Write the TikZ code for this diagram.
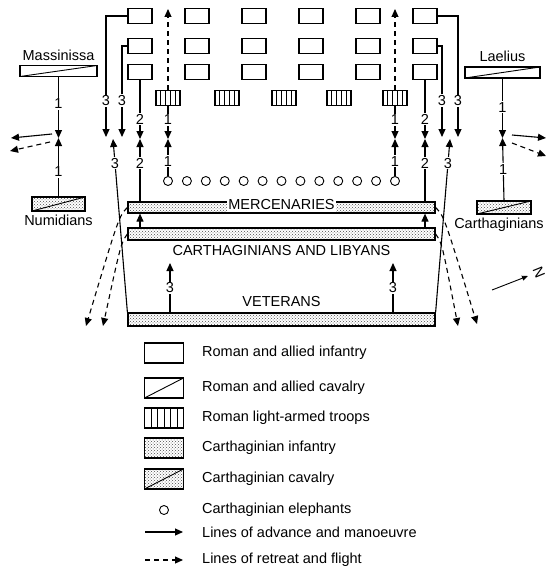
\documentclass[tikz,border=0pt]{standalone}
\usepackage{fontspec}
\setmainfont{Liberation Sans}
\usetikzlibrary{positioning, arrows.meta, calc, patterns}

\begin{document}
\begin{tikzpicture}[x=1pt, y=-1pt,
    every node/.style={font=\fontsize{14.5}{16}\selectfont},
    inf/.style={rectangle, draw, line width=1.2pt, minimum width=24pt, minimum height=15pt, inner sep=0pt},
    lt/.style={inf, path picture={
        \foreach \k in {1,...,#1} {
          \pgfmathsetmacro\fr{\k/(#1+1)}
          \draw[line width=0.8pt] ($(path picture bounding box.south west)!\fr!(path picture bounding box.south east)$)
            -- ($(path picture bounding box.north west)!\fr!(path picture bounding box.north east)$);
        }}},
    lt/.default=4,
    cav/.style={inf, path picture={\draw[line width=0.9pt] (path picture bounding box.south west) -- (path picture bounding box.north east);}},
    cinf/.style={inf, pattern=crosshatch dots, pattern color=black!70},
    ccav/.style={cinf, path picture={\draw[line width=0.9pt] (path picture bounding box.south west) -- (path picture bounding box.north east);}},
    eleph/.style={circle, draw, line width=0.9pt, minimum size=9pt, inner sep=0pt},
    num/.style={fill=white, inner sep=1pt},
    arr/.style={-{Triangle[length=8pt, width=7pt]}, line width=1.1pt},
    flee/.style={arr, dash pattern=on 5pt off 4pt},
    keytext/.style={anchor=west, inner sep=0pt},
  ]
    \useasboundingbox (0,0) rectangle (547,578);

    % Roman lines
    \foreach \c [count=\i] in {140,197,254,311,368,425}
      \foreach \r [count=\j] in {16,46,72}
        \node[inf] (ri\j-\i) at (\c,\r) {};
    \foreach \c [count=\i] in {168,227,284,339,395}
      \node[lt] (lt\i) at (\c,98) {};

    % elephants
    \foreach \k in {0,...,12}
      \node[eleph] (el\k) at ({168+\k*227/12},181) {};

    % Carthaginian lines
    \node[cinf, minimum width=307pt, minimum height=11pt] (merc) at (281.5,207.5) {};
    \node[cinf, minimum width=307pt, minimum height=12pt] (carlib) at (281.5,234) {};
    \node[cinf, minimum width=307pt, minimum height=13pt] (vet) at (281.5,319.5) {};
    \node[fill=white, inner sep=1.5pt] (merclbl) at (281.5,205) {MERCENARIES};
    \node (carliblbl) at (281.5,251) {CARTHAGINIANS AND LIBYANS};
    \node (vetlbl) at (281.5,302) {VETERANS};

    % cavalry
    \node[cav, minimum width=77pt, minimum height=11pt] (mass) at (58.5,71) {};
    \node[above=1pt of mass] (masslbl) {Massinissa};
    \node[ccav, minimum width=53pt, minimum height=14pt] (numid) at (58.5,204) {};
    \node[below=0pt of numid] (numidlbl) {Numidians};
    \node[cav, minimum width=75pt, minimum height=11pt] (lael) at (502.5,72.5) {};
    \node[above=1pt of lael] (laellbl) {Laelius};
    \node[ccav, minimum width=54pt, minimum height=13pt] (ccav) at (504,207.5) {};
    \node[below=0pt of ccav, xshift=-5pt] (ccavlbl) {Carthaginians};

    % meeting points and free ends
    \coordinate (mcl) at (58.5,138);
    \coordinate (mcr) at (502.5,138);
    \coordinate (m1l) at (168,139);
    \coordinate (m1r) at (395,139);
    \coordinate (m2l) at (140,139);
    \coordinate (m2r) at (425,139);
    \coordinate (d3a) at (106,137);
    \coordinate (d3b) at (122,137);
    \coordinate (d3c) at (442,137);
    \coordinate (d3d) at (458,137);
    \coordinate (m3l) at (113,139);
    \coordinate (m3r) at (450,139);
    \coordinate (top1) at (168,9);
    \coordinate (top5) at (395,9);
    \coordinate (v3l) at (170,263);
    \coordinate (v3r) at (393,263);

    % cavalry fight
    \draw[arr] (mass.south) -- node[num, pos=0.44] {1} (mcl);
    \draw[arr] (numid.north) -- node[num, pos=0.42] {1} (mcl);
    \draw[arr] (lael.south) -- node[num, pos=0.48] {1} (mcr);
    \draw[arr] (ccav.north) -- node[num, pos=0.5] {1} (mcr);
    \coordinate (cl1s) at (52,134);  \coordinate (cl1e) at (11,138);
    \coordinate (cl2s) at (50,142);  \coordinate (cl2e) at (10,151);
    \coordinate (cr1s) at (512,135); \coordinate (cr1e) at (546,138);
    \coordinate (cr2s) at (512,143); \coordinate (cr2e) at (546,156);
    \draw[arr] (cl1s) -- (cl1e);
    \draw[flee] (cl2s) -- (cl2e);
    \draw[arr] (cr1s) -- (cr1e);
    \draw[flee] (cr2s) -- (cr2e);

    % light troops and elephants
    \draw[flee] (lt1.north) -- (top1);
    \draw[flee] (lt5.north) -- (top5);
    \draw[arr] (lt1.south) -- node[num, pos=0.41] {1} (m1l);
    \draw[arr] (lt5.south) -- node[num, pos=0.41] {1} (m1r);
    \draw[arr] (el0.north) -- node[num, pos=0.4] {1} (m1l);
    \draw[arr] (el12.north) -- node[num, pos=0.4] {1} (m1r);

    % hastati against mercenaries
    \draw[arr] (ri3-1.south) -- node[num, pos=0.66] {2} (m2l);
    \draw[arr] (ri3-6.south) -- node[num, pos=0.66] {2} (m2r);
    \draw[arr] (ri3-1.south |- merc.north) -- node[num, pos=0.61] {2} (m2l);
    \draw[arr] (ri3-6.south |- merc.north) -- node[num, pos=0.61] {2} (m2r);
    \draw[arr] (ri3-1.south |- carlib.north) -- (ri3-1.south |- merc.south);
    \draw[arr] (ri3-6.south |- carlib.north) -- (ri3-6.south |- merc.south);

    % principes and triarii to the wings
    \draw[arr] (ri1-1.west) -| node[num, pos=0.85] {3} (d3a);
    \draw[arr] (ri2-1.west) -| node[num, pos=0.8] {3} (d3b);
    \draw[arr] (ri1-6.east) -| node[num, pos=0.85] {3} (d3d);
    \draw[arr] (ri2-6.east) -| node[num, pos=0.8] {3} (d3c);
    \draw[arr] (vet.north west) -- node[num, pos=0.86] {3} (m3l);
    \draw[arr] (vet.north east) -- node[num, pos=0.86] {3} (m3r);
    \draw[arr] (v3l |- vet.north) -- node[num] {3} (v3l);
    \draw[arr] (v3r |- vet.north) -- node[num] {3} (v3r);

    % flight
    \coordinate (fl1) at (86,326);
    \coordinate (fl2) at (103,326);
    \coordinate (fr1) at (477,324);
    \coordinate (fr2) at (458,326);
    \draw[flee] (merc.west) .. controls (119,216) .. (fl1);
    \draw[flee] (carlib.west) .. controls (121,243) .. (fl2);
    \draw[flee] (merc.east) .. controls (444,216) .. (fr1);
    \draw[flee] (carlib.east) .. controls (442,243) .. (fr2);

    % north
    \coordinate (ns) at (492,290);
    \coordinate (ne) at (528,276);
    \draw[-{Triangle[length=6pt, width=5pt]}, line width=0.9pt] (ns) -- (ne);
    \node[rotate=-68, inner sep=0pt] (nlbl) at (539,272) {N};

    % key
    \node[inf, minimum width=39pt, minimum height=20pt] (key1) at (164,353) {};
    \node[cav, minimum width=39pt, minimum height=20pt] (key2) at (164,388) {};
    \node[lt=5, minimum width=39pt, minimum height=20pt] (key3) at (164,418) {};
    \node[cinf, minimum width=39pt, minimum height=20pt] (key4) at (164,448) {};
    \node[ccav, minimum width=39pt, minimum height=20pt] (key5) at (164,479) {};
    \node[eleph] (key6) at (164,510) {};
    \coordinate (key7a) at (145,532); \coordinate (key7b) at (183,532);
    \coordinate (key8a) at (145,560); \coordinate (key8b) at (183,560);
    \draw[arr] (key7a) -- (key7b);
    \draw[flee] (key8a) -- (key8b);
    \node[keytext] (kt1) at (202,353) {Roman and allied infantry};
    \node[keytext] (kt2) at (202,388) {Roman and allied cavalry};
    \node[keytext] (kt3) at (202,418) {Roman light-armed troops};
    \node[keytext] (kt4) at (202,448) {Carthaginian infantry};
    \node[keytext] (kt5) at (202,479) {Carthaginian cavalry};
    \node[keytext] (kt6) at (202,510) {Carthaginian elephants};
    \node[keytext] (kt7) at (202,532) {Lines of advance and manoeuvre};
    \node[keytext] (kt8) at (202,560) {Lines of retreat and flight};
\end{tikzpicture}
\end{document}
